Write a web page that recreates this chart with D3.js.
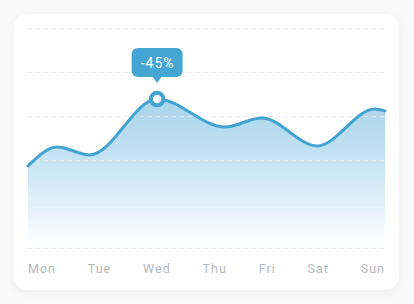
<!DOCTYPE html>
<html>
<head>
<meta charset="utf-8">
<script src="https://cdn.jsdelivr.net/npm/d3@7"></script>
<style>
  html, body { margin: 0; padding: 0; background: #f9f9f9; }
  svg { display: block; }
</style>
</head>
<body>
<svg id="chart" width="414" height="304"></svg>
<script>
// ---- data ----
const days = ["Mon", "Tue", "Wed", "Thu", "Fri", "Sat", "Sun"];
// curve control points: position in day units (Mon = 0 ... Sun = 6) and value (0-100)
const curveX = [0, 0.49, 1.04, 2.17, 3.31, 3.93, 4.86, 5.83, 6];
const curveY = [37.3, 45.9, 42.3, 67.7, 55.0, 59.1, 46.4, 63.2, 62.3];
const gridTicks = [0, 20, 40, 60, 80, 100];
const highlightIndex = 3;
const highlightLabel = "-45%";

// ---- layout ----
const W = 414, H = 304;
const plot = { left: 28, right: 385, top: 28, bottom: 248 };
const lineColor = "#43a3d1";

const svg = d3.select("#chart");
const defs = svg.append("defs");

const shadow = defs.append("filter").attr("id", "shadow")
  .attr("x", "-10%").attr("y", "-10%").attr("width", "120%").attr("height", "120%");
shadow.append("feDropShadow").attr("dx", 0).attr("dy", 2).attr("stdDeviation", 5)
  .attr("flood-color", "#000").attr("flood-opacity", 0.05);

const grad = defs.append("linearGradient").attr("id", "areaGrad")
  .attr("gradientUnits", "userSpaceOnUse")
  .attr("x1", 0).attr("x2", 0).attr("y1", 95).attr("y2", 246);
grad.append("stop").attr("offset", 0).attr("stop-color", "#a6d3eb");
grad.append("stop").attr("offset", 0.55).attr("stop-color", "#cfe8f5");
grad.append("stop").attr("offset", 1).attr("stop-color", "#ffffff");

// card
svg.append("rect")
  .attr("x", 14).attr("y", 14).attr("width", 385).attr("height", 276)
  .attr("rx", 14).attr("fill", "#ffffff").attr("filter", "url(#shadow)");

const x = d3.scaleLinear().domain([0, 6]).range([plot.left, plot.right]);
const y = d3.scaleLinear().domain([0, 100]).range([plot.bottom, plot.top]);

const pts = curveX.map((d, i) => [d, curveY[i]]);

// area
const area = d3.area()
  .x(d => x(d[0])).y0(y(0)).y1(d => y(d[1]))
  .curve(d3.curveMonotoneX);
svg.append("path").datum(pts).attr("d", area).attr("fill", "url(#areaGrad)");

// grid
const gridAxis = d3.axisLeft(y).tickValues(gridTicks)
  .tickSize(-(plot.right - plot.left)).tickFormat("");
const g = svg.append("g").attr("transform", `translate(${plot.left},0)`).call(gridAxis);
g.select(".domain").remove();
g.selectAll(".tick line")
  .attr("stroke", "#e6e8ea").attr("stroke-width", 1)
  .attr("stroke-dasharray", "4,4").attr("opacity", 0.9);

// line
const line = d3.line().x(d => x(d[0])).y(d => y(d[1])).curve(d3.curveMonotoneX);
svg.append("path").datum(pts).attr("d", line)
  .attr("fill", "none").attr("stroke", lineColor).attr("stroke-width", 3)
  .attr("stroke-linecap", "round");

// highlight marker
const hx = x(curveX[highlightIndex]), hy = y(curveY[highlightIndex]);
svg.append("circle").attr("cx", hx).attr("cy", hy).attr("r", 6.3)
  .attr("fill", "#fff").attr("stroke", lineColor).attr("stroke-width", 4);

// tooltip
const tip = svg.append("g");
const tw = 51, th = 29, tTop = 48;
tip.append("rect").attr("x", hx - tw / 2).attr("y", tTop).attr("width", tw).attr("height", th)
  .attr("rx", 6).attr("fill", "#45a6d4");
tip.append("path")
  .attr("d", `M${hx - 5},${tTop + th - 1} L${hx},${tTop + th + 6} L${hx + 5},${tTop + th - 1} Z`)
  .attr("fill", "#45a6d4");
tip.append("text").attr("x", hx + 0.5).attr("y", tTop + th / 2)
  .attr("text-anchor", "middle").attr("dominant-baseline", "central")
  .attr("fill", "#fff").attr("font-family", "Roboto, sans-serif")
  .attr("font-size", 14).attr("letter-spacing", 1)
  .text(highlightLabel);

// x labels, distributed space-between across the plot width
const labels = svg.append("g").selectAll("text").data(days).join("text")
  .attr("y", 273)
  .attr("fill", "#b3b8bc").attr("font-family", "Roboto, sans-serif")
  .attr("font-size", 12.5).attr("letter-spacing", 1)
  .text(d => d);
const widths = labels.nodes().map(n => n.getComputedTextLength());
const total = d3.sum(widths);
const gap = (plot.right - plot.left - total) / (days.length - 1);
let cx = plot.left;
labels.attr("x", (d, i) => { const v = cx; cx += widths[i] + gap; return v; });
</script>
</body>
</html>
